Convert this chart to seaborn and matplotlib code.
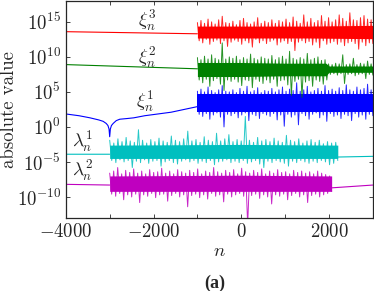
# Absolute values of xi_n and lambda_n on a log scale

import numpy as np
import pandas as pd
import matplotlib
matplotlib.use("Agg")
import matplotlib.pyplot as plt
import seaborn as sns
from matplotlib.ticker import FixedLocator, NullLocator, LogFormatterMathtext

# Data (log10 of absolute value)

# smooth parts before / after the noise
red_smooth_n = [-4000, -3999, -3000, -2000, -1000]
red_smooth = [15.8, 13.6, 13.5, 13.4, 13.3]
green_smooth_n = [-4000, -3999, -3998, -3000, -2000, -1000]
green_smooth = [10.0, 5.6, 8.9, 8.7, 8.5, 8.3]
blue_smooth_n = [-4000, -3999, -3700, -3450, -3250, -3150, -3080, -3040, -3015, -3000,
                 -2985, -2960, -2920, -2850, -2770, -2600, -2450, -2200, -1900, -1600,
                 -1300, -1000]
blue_smooth = [5.1, 1.85, 1.6, 1.3, 1.0, 0.8, 0.5, 0.2, -0.3, -1.4,
               -0.3, 0.2, 0.5, 0.9, 1.1, 1.2, 1.3, 1.6, 1.85, 2.1,
               2.5, 2.9]
cyan_smooth_n = [-4000, -3999, -3000]
cyan_smooth = [0.4, -3.9, -3.9]
cyan_tail_n = [2200, 3000]
cyan_tail = [-4.3, -4.2]
mag_smooth_n = [-4000, -3999, -3998, -3000]
mag_smooth = [-5.1, -11.7, -8.2, -8.3]
mag_tail_n = [2060, 3000]
mag_tail = [-8.7, -8.3]

# dense core of each noisy band
red_core_n = [-1000, 500, 1500, 3000]
red_core_hi = [14.4, 14.4, 14.4, 14.5]
red_core_lo = [12.7, 12.7, 12.7, 12.6]
green_core_n = [-1000, 0, 1000, 1930, 2000, 3000]
green_core_hi = [9.2, 9.2, 9.1, 9.1, 8.7, 8.7]
green_core_lo = [7.2, 7.2, 7.3, 7.3, 7.8, 7.8]
blue_core_n = [-1000, 1000, 3000]
blue_core_hi = [4.7, 4.7, 4.7]
blue_core_lo = [2.2, 2.2, 2.2]
cyan_core_n = [-3000, 0, 2200]
cyan_core_hi = [-2.6, -2.5, -2.6]
cyan_core_lo = [-4.5, -4.5, -4.5]
mag_core_n = [-3000, 0, 2060]
mag_core_hi = [-7.0, -6.9, -7.0]
mag_core_lo = [-9.2, -9.2, -9.2]

# noisy parts: upper and lower excursions
red_hi = [14.9, 15.2, 14.8, 15.4, 15.0, 14.7, 15.3, 15.8, 14.9, 14.8,
          15.1, 14.6, 15.2, 15.5, 14.9, 14.7, 15.0, 15.6, 14.8, 15.1,
          14.9, 15.3, 14.8, 15.2, 15.0, 15.4, 14.9, 15.7, 15.1, 14.8,
          16.0, 15.0, 15.5, 14.9, 15.2, 15.9, 15.1, 15.6, 15.0, 15.3,
          16.0, 15.5, 15.1, 16.3, 15.3, 15.2, 15.6, 15.9, 15.4, 15.3]
red_lo = [12.3, 12.0, 12.5, 11.8, 12.2, 12.4, 11.9, 12.3, 11.5, 12.1,
          12.4, 12.2, 11.8, 12.3, 12.0, 11.4, 12.5, 12.0, 12.3, 11.9,
          12.2, 12.4, 11.7, 12.1, 12.3, 11.9, 12.2, 10.9, 12.1, 12.3,
          12.0, 12.2, 11.7, 12.1, 11.3, 12.3, 11.8, 12.0, 12.2, 11.8,
          12.1, 11.6, 12.0, 12.2, 11.9, 11.1, 12.1, 11.6, 12.0, 11.9]

green_hi = [9.9, 9.6, 10.1, 9.7, 10.3, 9.8, 9.6, 12.0, 9.7, 10.0,
            9.8, 10.1, 9.6, 9.9, 9.7, 10.4, 9.8, 9.6, 10.0, 9.8,
            9.7, 10.2, 9.6, 9.9, 10.1, 9.7, 10.8, 9.8, 9.6, 9.9,
            9.7, 10.5, 9.6, 9.8, 10.0, 9.5, 9.6, 9.0, 8.9, 9.1,
            9.0, 10.3, 8.9, 9.0, 9.8, 8.9, 9.1, 9.0, 9.4, 9.0]
green_lo = [6.7, 6.3, 6.8, 5.8, 6.6, 6.9, 6.1, 5.2, 6.7, 6.5,
            6.8, 6.4, 5.9, 6.7, 6.6, 5.6, 6.8, 6.5, 6.2, 6.7,
            6.3, 6.8, 5.8, 6.6, 6.7, 6.0, 4.5, 6.5, 6.8, 4.2,
            6.4, 6.6, 5.8, 6.7, 6.5, 6.1, 6.7, 7.5, 7.6, 7.4,
            7.6, 6.2, 7.5, 7.6, 7.3, 7.5, 7.6, 6.9, 7.5, 7.4]

blue_hi = [5.1, 5.4, 5.0, 5.7, 5.2, 4.9, 5.3, 5.9, 5.1, 5.0,
           5.3, 4.9, 5.5, 5.1, 5.8, 5.0, 5.2, 5.6, 4.9, 5.2,
           5.1, 5.5, 5.0, 5.3, 5.7, 5.1, 5.4, 5.2, 6.3, 5.1,
           5.3, 5.8, 5.0, 5.2, 5.5, 5.1, 5.9, 5.2, 5.4, 5.1,
           5.6, 5.2, 6.0, 5.3, 5.1, 5.7, 5.3, 5.5, 6.1, 5.3]
blue_lo = [1.8, 1.5, 1.9, 1.1, 1.7, 2.0, 1.4, 0.0, 1.8, 1.6,
           1.9, 1.3, 1.7, 2.0, 0.9, 1.8, 1.6, 1.2, 1.9, 1.7,
           1.5, 1.9, 1.0, 1.7, 0.1, 1.8, 1.4, 1.7, 0.3, 1.9,
           1.6, 1.1, 1.8, 2.0, 1.3, 1.7, 0.8, 1.9, 1.5, 1.7,
           1.2, 1.8, 1.6, 0.9, 1.9, 1.4, 1.7, 1.1, 1.8, 1.6]

cyan_hi = [-1.9, -2.3, -1.7, -2.1, -1.5, -2.0, -2.2, -0.4, -1.9, -2.3,
           -1.8, -2.1, -1.6, -2.0, -2.2, -1.3, -1.9, -2.1, -1.7, -0.6,
           -2.0, -1.8, -2.2, -1.4, -1.9, -2.1, -0.9, -2.0, -1.7, -1.1,
           -2.1, -1.8, -2.0, 1.5, -1.9, -2.2, -1.5, -2.0, -1.8, -2.1,
           -1.6, -2.0, -2.2, -1.2, -1.9, -2.1, -1.7, -2.3, -2.0, -1.8,
           -2.2, -1.9, -2.4, -2.1, -2.3, -2.2]
cyan_lo = [-4.8, -5.1, -4.7, -5.0, -4.8, -5.8, -4.9, -5.1, -4.7, -5.2,
           -4.9, -4.8, -5.6, -5.0, -4.8, -5.1, -5.3, -4.9, -4.7, -5.0,
           -4.8, -5.2, -4.9, -5.1, -4.8, -5.4, -5.0, -4.9, -4.7, -5.1,
           -4.9, -5.1, -4.8, -5.2, -5.0, -4.8, -5.3, -5.8, -4.9, -5.1,
           -4.8, -5.0, -5.2, -5.6, -4.9, -5.1, -4.8, -5.0, -5.2, -4.9,
           -5.1, -4.8, -5.0, -5.4, -5.2, -4.8]

mag_hi = [-6.6, -6.3, -5.8, -6.7, -6.2, -6.5, -6.0, -6.6, -6.3, -6.7,
          -6.1, -6.5, -6.4, -5.9, -6.6, -6.3, -6.7, -6.1, -6.4, -6.6,
          -6.2, -6.5, -6.0, -6.7, -6.3, -6.5, -5.8, -6.4, -6.6, -6.2,
          -6.5, -6.1, -6.7, -5.9, -6.4, -6.6, -6.2, -6.5, -6.0, -6.7,
          -6.3, -6.6, -6.1, -6.5, -6.4, -6.7, -6.2, -6.5, -6.3, -6.6,
          -6.4, -6.7, -6.3, -6.6, -6.8, -7.0]
mag_lo = [-9.6, -9.9, -9.5, -10.4, -9.7, -10.0, -9.6, -10.8, -9.7, -9.9,
          -9.5, -10.1, -9.7, -9.6, -10.6, -9.8, -9.5, -10.0, -9.7, -11.4,
          -9.8, -9.6, -10.1, -9.7, -10.3, -9.5, -9.9, -9.7, -10.7, -9.6,
          -10.0, -9.7, -9.5, -9.9, -14.0, -9.8, -9.6, -10.2, -9.7, -10.0,
          -11.0, -9.7, -9.9, -9.6, -10.4, -9.8, -9.5, -10.0, -9.7, -10.8,
          -9.8, -9.6, -10.0, -9.7, -9.5, -9.2]

# n range of each noisy stretch
red_noise_span = (-1000, 3000)
green_noise_span = (-1000, 3000)
blue_noise_span = (-1000, 3000)
cyan_noise_span = (-3000, 2200)
mag_noise_span = (-3000, 2060)

series_names = ["xi3", "xi2", "xi1", "lam1", "lam2"]
series_colors = ["r", "g", "b", "c", "m"]
cores = [
    (red_core_n, red_core_lo, red_core_hi),
    (green_core_n, green_core_lo, green_core_hi),
    (blue_core_n, blue_core_lo, blue_core_hi),
    (cyan_core_n, cyan_core_lo, cyan_core_hi),
    (mag_core_n, mag_core_lo, mag_core_hi),
]


def noisy(hi, lo, span):
    vals = np.column_stack([hi, lo]).ravel()
    n = np.linspace(span[0], span[1], len(vals))
    return n, vals


def to_frame(name, n, vals, part):
    return pd.DataFrame({"n": np.asarray(n, float), "value": 10.0 ** np.asarray(vals, float),
                         "series": name, "part": part})


smooth_df = pd.concat([
    to_frame("xi3", red_smooth_n, red_smooth, 0),
    to_frame("xi2", green_smooth_n, green_smooth, 0),
    to_frame("xi1", blue_smooth_n, blue_smooth, 0),
    to_frame("lam1", cyan_smooth_n, cyan_smooth, 0),
    to_frame("lam1", cyan_tail_n, cyan_tail, 1),
    to_frame("lam2", mag_smooth_n, mag_smooth, 0),
    to_frame("lam2", mag_tail_n, mag_tail, 1),
], ignore_index=True)

noise_df = pd.concat([
    to_frame("xi3", *noisy(red_hi, red_lo, red_noise_span), 0),
    to_frame("xi2", *noisy(green_hi, green_lo, green_noise_span), 0),
    to_frame("xi1", *noisy(blue_hi, blue_lo, blue_noise_span), 0),
    to_frame("lam1", *noisy(cyan_hi, cyan_lo, cyan_noise_span), 0),
    to_frame("lam2", *noisy(mag_hi, mag_lo, mag_noise_span), 0),
], ignore_index=True)

# Style
sns.set_style("ticks")
plt.rcParams["mathtext.fontset"] = "cm"
plt.rcParams["font.family"] = ["cmr10", "DejaVu Serif"]
plt.rcParams["axes.formatter.use_mathtext"] = True
plt.rcParams["xtick.direction"] = "in"
plt.rcParams["ytick.direction"] = "in"

fig = plt.figure(figsize=(3.74, 2.91), dpi=100)
ax = fig.add_axes([0.176, 0.251, 0.821, 0.746])

sns.lineplot(data=smooth_df, x="n", y="value", hue="series", units="part",
             hue_order=series_names, palette=series_colors, estimator=None,
             sort=False, legend=False, linewidth=0.8, ax=ax)
sns.lineplot(data=noise_df, x="n", y="value", hue="series", units="part",
             hue_order=series_names, palette=series_colors, estimator=None,
             sort=False, legend=False, linewidth=0.7, alpha=0.85, ax=ax)

# solid middle of the noise bands
for (cn, clo, chi), col in zip(cores, series_colors):
    ax.fill_between(cn, 10.0 ** np.asarray(clo), 10.0 ** np.asarray(chi),
                    color=col, linewidth=0)

ax.set_yscale("log")
ax.set_xlim(-4000, 3000)
ax.set_ylim(1e-13, 1e18)
ax.yaxis.set_major_locator(FixedLocator([1e-10, 1e-5, 1e0, 1e5, 1e10, 1e15]))
ax.yaxis.set_major_formatter(LogFormatterMathtext())
ax.yaxis.set_minor_locator(NullLocator())
ax.set_xticks([-4000, -2000, 0, 2000])
ax.set_xticks([-3000, -1000, 1000], minor=True)
ax.tick_params(which="both", top=True, right=True, labelsize=13.5, length=3, width=0.6)
for sp in ax.spines.values():
    sp.set_linewidth(0.9)

ax.set_xlabel("$n$", fontsize=13.5, labelpad=1)
ax.set_ylabel("absolute value", fontsize=13.5)
ax.yaxis.set_label_coords(-0.155, 0.5)

# Curve labels
ax.text(-2150, 10 ** 15.2, r"$\xi_n^3$", fontsize=13.5, ha="center", va="center")
ax.text(-2150, 10 ** 10.0, r"$\xi_n^2$", fontsize=13.5, ha="center", va="center")
ax.text(-2200, 10 ** 3.7, r"$\xi_n^1$", fontsize=13.5, ha="center", va="center")
ax.text(-3620, 10 ** -2.0, r"$\lambda_n^1$", fontsize=13.5, ha="center", va="center")
ax.text(-3620, 10 ** -6.2, r"$\lambda_n^2$", fontsize=13.5, ha="center", va="center")

fig.text(215 / 374, 1 - 283 / 291, "(a)", fontsize=13, fontweight="bold",
         family="Liberation Serif", ha="center", va="center")

fig.savefig("out.png", dpi=100)
